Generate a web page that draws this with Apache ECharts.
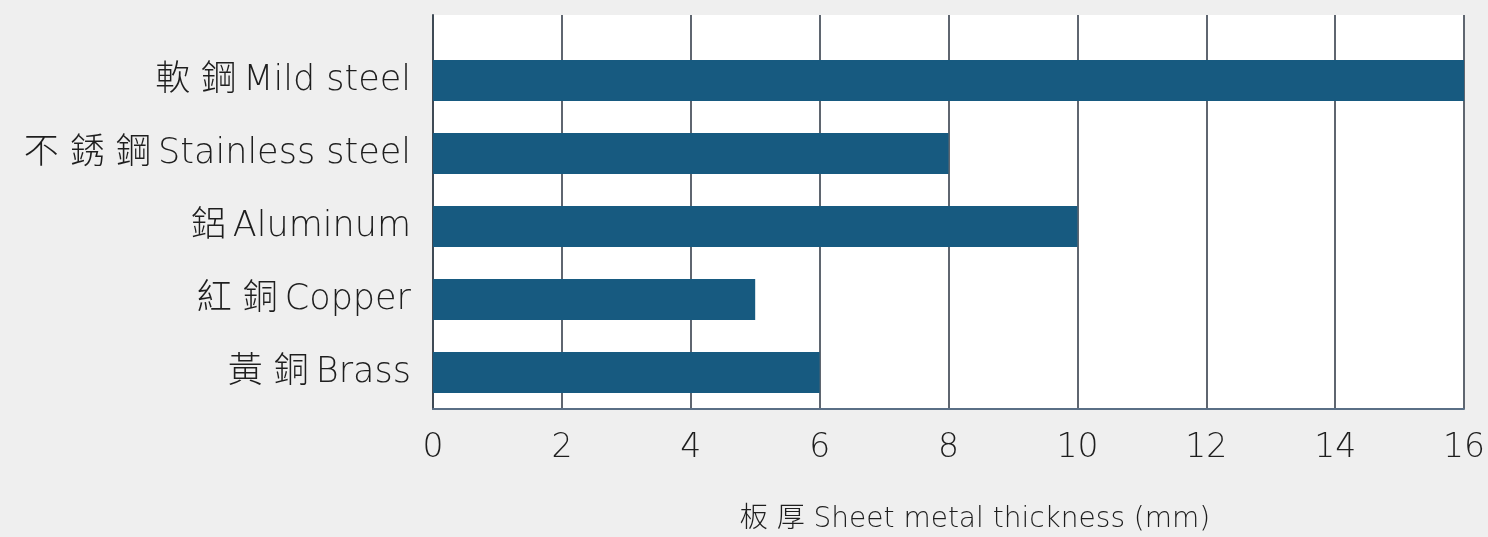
<!DOCTYPE html>
<html>
<head>
<meta charset="utf-8">
<script src="https://cdn.jsdelivr.net/npm/echarts@6/dist/echarts.min.js"></script>
<style>
html,body{margin:0;padding:0;background:#efefef;}
#chart{width:1488px;height:537px;}
</style>
</head>
<body>
<div id="chart"></div>
<script>
const categories = ['軟 鋼\u2009Mild steel', '不 銹 鋼\u2009Stainless steel', '鋁\u2009Aluminum', '紅 銅\u2009Copper', '黃 銅\u2009Brass'];
const thickness = [16, 8, 10, 5, 6];
const axisTitle = '板 厚 Sheet metal thickness (mm)';
const xMin = 0, xMax = 16, xStep = 2;

const FONT = '"DejaVu Sans", "Noto Sans CJK TC", sans-serif';
const chart = echarts.init(document.getElementById('chart'), null, {renderer: 'canvas'});
chart.setOption({
  backgroundColor: '#efefef',
  animation: false,
  grid: [
    {left: 433, right: 24, top: 44, height: 365, show: true, backgroundColor: '#ffffff', borderWidth: 0, containLabel: false, outerBoundsMode: 'none'},
    {left: 433, right: 24, top: 15, height: 29, show: true, backgroundColor: '#ffffff', borderWidth: 0, containLabel: false, outerBoundsMode: 'none'}
  ],
  xAxis: [
    {
      gridIndex: 0, type: 'value', min: xMin, max: xMax, interval: xStep,
      axisLine: {show: true, lineStyle: {color: '#5a6f86', width: 2}},
      axisTick: {show: false},
      splitLine: {show: true, lineStyle: {color: '#5f6670', width: 2}},
      axisLabel: {fontSize: 33, color: '#1e1e1e', fontFamily: FONT, fontWeight: 300, margin: 23},
      name: axisTitle, nameLocation: 'middle', nameGap: 97,
      nameTextStyle: {fontSize: 28, color: '#1e1e1e', fontFamily: FONT, fontWeight: 300, padding: [0, 0, 0, 53]}
    },
    {
      gridIndex: 1, type: 'value', min: xMin, max: xMax, interval: xStep,
      axisLine: {show: false}, axisTick: {show: false}, axisLabel: {show: false},
      splitLine: {show: true, lineStyle: {color: '#5f6670', width: 2}}
    }
  ],
  yAxis: [
    {
      gridIndex: 0, type: 'category', data: categories, inverse: true,
      axisLine: {show: true, lineStyle: {color: '#3f4a55', width: 2}},
      axisTick: {show: false},
      splitLine: {show: false},
      axisLabel: {fontSize: 35, color: '#1e1e1e', fontFamily: FONT, fontWeight: 300, margin: 22}
    },
    {
      gridIndex: 1, type: 'value', min: 0, max: 1,
      axisLine: {show: true, lineStyle: {color: '#3f4a55', width: 2}},
      axisTick: {show: false}, axisLabel: {show: false}, splitLine: {show: false}
    }
  ],
  series: [{
    type: 'bar',
    xAxisIndex: 0, yAxisIndex: 0,
    data: thickness,
    barWidth: 41,
    itemStyle: {color: '#175a80'}
  }]
});
</script>
</body>
</html>
